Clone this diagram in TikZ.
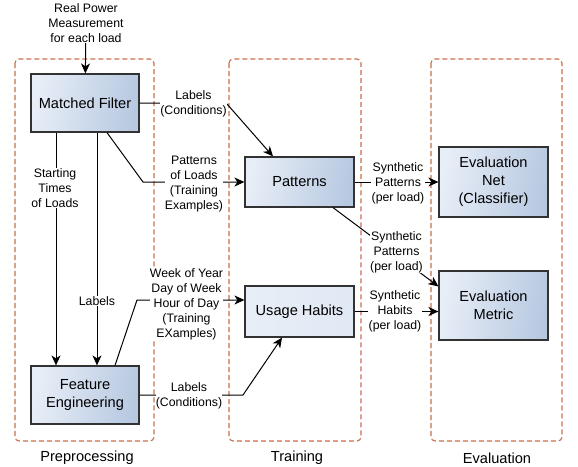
\documentclass[tikz,border=0pt]{standalone}
\usepackage{fontspec}
\setmainfont{Liberation Sans}
\usetikzlibrary{arrows.meta}
\definecolor{grpc}{RGB}{200,110,75}
\definecolor{fillL}{RGB}{232,238,247}
\definecolor{fillR}{RGB}{183,201,225}
\definecolor{edgec}{RGB}{50,50,50}
\begin{document}
\begin{tikzpicture}[x=1pt,y=-1pt,
  grp/.style={draw=grpc, line width=1.1pt, dash pattern=on 5pt off 3pt, rounded corners=4pt},
  box/.style={draw=edgec, line width=1.2pt, left color=fillL, right color=fillR, shading angle=80,
    align=center, font=\fontsize{14.6}{18}\selectfont, inner sep=2pt},
  lbox/.style={box, left color=fillL, right color=fillL!85!fillR},
  arr/.style={draw=black, line width=1pt, -{Stealth[length=10pt,width=9pt,inset=3pt]}},
  lbl/.style={fill=white, align=center, inner sep=0.3pt, font=\fontsize{12.3}{15}\selectfont},
  ttl/.style={font=\fontsize{14.6}{18}\selectfont}
]
\useasboundingbox (0,0) rectangle (578,466);

% groups
\draw[grp] (15,59) rectangle (154,441);
\draw[grp] (229,59) rectangle (361,441);
\draw[grp] (431,59) rectangle (562,441);

% boxes
\node[box, minimum width=108pt, minimum height=58pt] (mf) at (85,103) {Matched Filter};
\node[box, minimum width=108pt, minimum height=58pt] (fe) at (85,395) {Feature\\Engineering};
\node[box, minimum width=109pt, minimum height=50pt] (pat) at (299.5,182) {Patterns};
\node[lbox, minimum width=109pt, minimum height=51pt] (uh) at (299.5,311.5) {Usage Habits};
\node[box, minimum width=109pt, minimum height=70pt] (en) at (493.5,182) {Evaluation\\Net\\(Classifier)};
\node[box, minimum width=109pt, minimum height=69pt] (em) at (493.5,305.5) {Evaluation\\Metric};

% input
\node[lbl, fill=none] (in) at (86,23) {Real Power\\Measurement\\for each load};
\draw[arr] (in) -- (mf);

% helper coordinates
\coordinate (k1) at (227,104);
\coordinate (k2) at (143,182);
\coordinate (k3) at (137,300);
\coordinate (k4) at (243,395);

% connectors
\draw[arr] (mf.east) -- (k1) -- ([xshift=-26.5pt]pat.north);
\draw[arr] ([xshift=22pt]mf.south) -- (k2) -- (pat.west);
\draw[arr] ([xshift=-29pt]mf.south) -- ([xshift=-29pt]fe.north);
\draw[arr] ([xshift=12pt]mf.south) -- ([xshift=12pt]fe.north);
\draw[arr] ([xshift=30pt]fe.north) -- (k3) -- (k3 -| uh.west);
\draw[arr] (fe.east) -- (k4) -- ([xshift=-17.5pt]uh.south);
\draw[arr] (pat.east) -- (en.west);
\draw[arr] ([xshift=33.5pt]pat.south) -- ([yshift=-16pt]em.north west);
\draw[arr] (uh.east) -- (uh.east -| em.west);

% labels
\node[lbl] (l1) at (193.5,104) {Labels\\(Conditions)};
\node[lbl] (l2) at (194,184.5) {Patterns\\of Loads\\(Training\\Examples)};
\node[lbl] (l3) at (55,188) {Starting\\Times\\of Loads};
\node[lbl] (l4) at (97,301) {Labels};
\node[lbl] (l5) at (186.5,304) {Week of Year\\Day of Week\\Hour of Day\\(Training\\EXamples)};
\node[lbl] (l6) at (189,396) {Labels\\(Conditions)};
\node[lbl] (l7) at (398,183) {Synthetic\\Patterns\\(per load)};
\node[lbl] (l8) at (396.5,252) {Synthetic\\Patterns\\(per load)};
\node[lbl] (l9) at (395,311) {Synthetic\\Habits\\(per load)};

% titles
\node[ttl] (t1) at (87,458) {Preprocessing};
\node[ttl] (t2) at (297,458) {Training};
\node[ttl] (t3) at (497,458) {Evaluation};
\end{tikzpicture}
\end{document}
